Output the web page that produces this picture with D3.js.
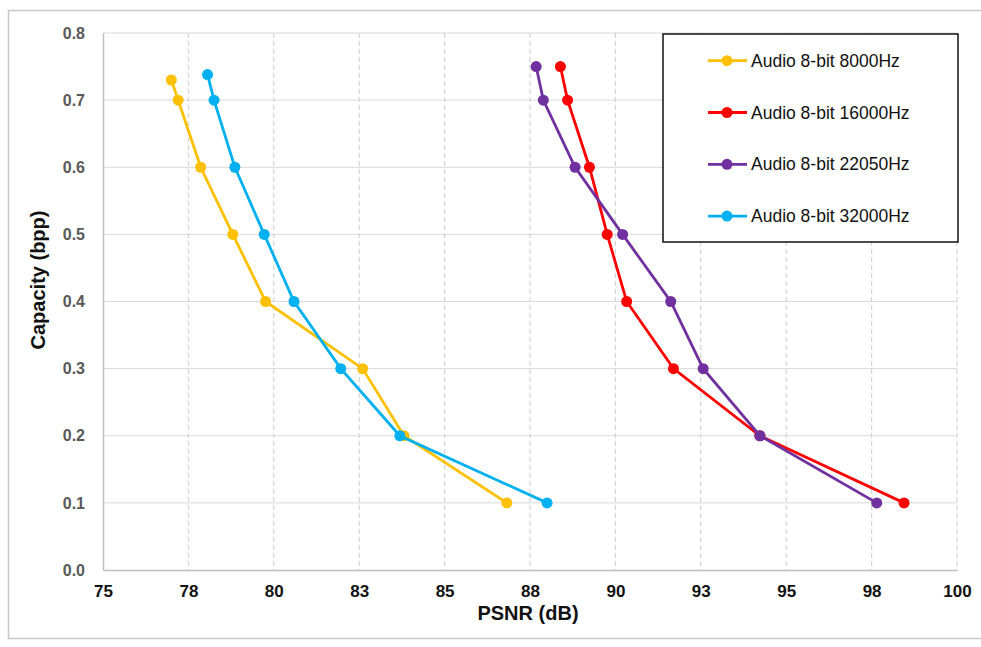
<!DOCTYPE html>
<html><head><meta charset="utf-8">
<script src="https://cdn.jsdelivr.net/npm/d3@7"></script>
<style>body{margin:0;background:#fff;}svg{display:block;font-family:"Liberation Sans",Arial,Helvetica,sans-serif;}</style>
</head><body>
<svg id="chart" width="981" height="647"></svg>
<script>
const seriesNames = ["Audio 8-bit 8000Hz","Audio 8-bit 16000Hz","Audio 8-bit 22050Hz","Audio 8-bit 32000Hz"];
const seriesColors = ["#FFC000","#FF0000","#7030A0","#00B0F0"];
const capacity8000  = [0.73,0.70,0.60,0.50,0.40,0.30,0.20,0.10];
const psnr8000      = [77.0,77.2,77.86,78.8,79.76,82.6,83.81,86.82];
const capacity16000 = [0.75,0.70,0.60,0.50,0.40,0.30,0.20,0.10];
const psnr16000     = [88.39,88.6,89.24,89.76,90.33,91.7,94.23,98.45];
const capacity22050 = [0.75,0.70,0.60,0.50,0.40,0.30,0.20,0.10];
const psnr22050     = [87.68,87.89,88.82,90.21,91.62,92.57,94.23,97.65];
const capacity32000 = [0.738,0.70,0.60,0.50,0.40,0.30,0.20,0.10];
const psnr32000     = [78.06,78.25,78.86,79.72,80.59,81.96,83.69,88.0];
const xTicks = [75,77.5,80,82.5,85,87.5,90,92.5,95,97.5,100];
const yTicks = [0,0.1,0.2,0.3,0.4,0.5,0.6,0.7,0.8];

const series = [
  {name:seriesNames[0], color:seriesColors[0], x:psnr8000,  y:capacity8000},
  {name:seriesNames[1], color:seriesColors[1], x:psnr16000, y:capacity16000},
  {name:seriesNames[2], color:seriesColors[2], x:psnr22050, y:capacity22050},
  {name:seriesNames[3], color:seriesColors[3], x:psnr32000, y:capacity32000}
];

const svg = d3.select("#chart");
// outer frame
svg.append("rect").attr("x",8.5).attr("y",10.5).attr("width",980).attr("height",628)
  .attr("fill","none").attr("stroke","#c8c8c8").attr("stroke-width",1.5);

const L=103, R=957, T=33, B=570;
const x = d3.scaleLinear().domain([75,100]).range([L,R]);
const y = d3.scaleLinear().domain([0,0.8]).range([B,T]);

// grid
svg.append("g").selectAll("line").data(yTicks.filter(d=>d>0)).join("line")
  .attr("x1",L).attr("x2",R).attr("y1",d=>y(d)).attr("y2",d=>y(d))
  .attr("stroke","#d9d9d9").attr("stroke-width",1);
svg.append("g").selectAll("line").data(xTicks.filter(d=>d>75)).join("line")
  .attr("y1",T).attr("y2",B).attr("x1",d=>x(d)).attr("x2",d=>x(d))
  .attr("stroke","#d4d4d4").attr("stroke-width",1.2).attr("stroke-dasharray","5,3");

// axes
const xAxis = d3.axisBottom(x).tickValues(xTicks).tickFormat(d=>Math.round(d)).tickSize(0).tickPadding(15);
const gx = svg.append("g").attr("transform",`translate(0,${B})`).call(xAxis);
gx.select(".domain").attr("stroke","#bfbfbf").attr("stroke-width",1.5);
gx.selectAll("text").attr("font-size",17).attr("font-weight","bold").attr("fill","#111")
  .attr("font-family","'Liberation Sans',Arial,sans-serif");

const yAxis = d3.axisLeft(y).tickValues(yTicks).tickFormat(d3.format(".1f")).tickSize(0).tickPadding(18);
const gy = svg.append("g").attr("transform",`translate(${L},0)`).call(yAxis);
gy.select(".domain").attr("stroke","#bfbfbf").attr("stroke-width",1.5);
gy.selectAll("text").attr("font-size",16).attr("font-weight","bold").attr("fill","#595959")
  .attr("font-family","'Liberation Sans',Arial,sans-serif");

// axis titles
svg.append("text").attr("x",528).attr("y",620).attr("text-anchor","middle")
  .attr("font-size",20).attr("font-weight","bold").attr("fill","#111").text("PSNR (dB)");
svg.append("text").attr("transform","translate(45,280) rotate(-90)").attr("text-anchor","middle")
  .attr("font-size",20).attr("font-weight","bold").attr("fill","#111").text("Capacity (bpp)");

// lines & markers
const line = d3.line().x(d=>x(d[0])).y(d=>y(d[1]));
series.forEach(s=>{
  const pts = s.x.map((v,i)=>[v,s.y[i]]);
  const g = svg.append("g");
  g.append("path").datum(pts).attr("d",line).attr("fill","none")
    .attr("stroke",s.color).attr("stroke-width",2.8);
  g.selectAll("circle").data(pts).join("circle")
    .attr("cx",d=>x(d[0])).attr("cy",d=>y(d[1])).attr("r",5.5).attr("fill",s.color);
});

// legend
const lg = svg.append("g");
lg.append("rect").attr("x",663).attr("y",34).attr("width",295).attr("height",208)
  .attr("fill","#fff").attr("stroke","#111").attr("stroke-width",1.5);
series.forEach((s,i)=>{
  const cy = 60.7 + i*51.8;
  lg.append("line").attr("x1",708).attr("x2",747).attr("y1",cy).attr("y2",cy)
    .attr("stroke",s.color).attr("stroke-width",2.8);
  lg.append("circle").attr("cx",727).attr("cy",cy).attr("r",5.5).attr("fill",s.color);
  lg.append("text").attr("x",751).attr("y",cy).attr("dy","0.35em")
    .attr("font-size",17.5).attr("fill","#111").text(s.name);
});
</script>
</body></html>
